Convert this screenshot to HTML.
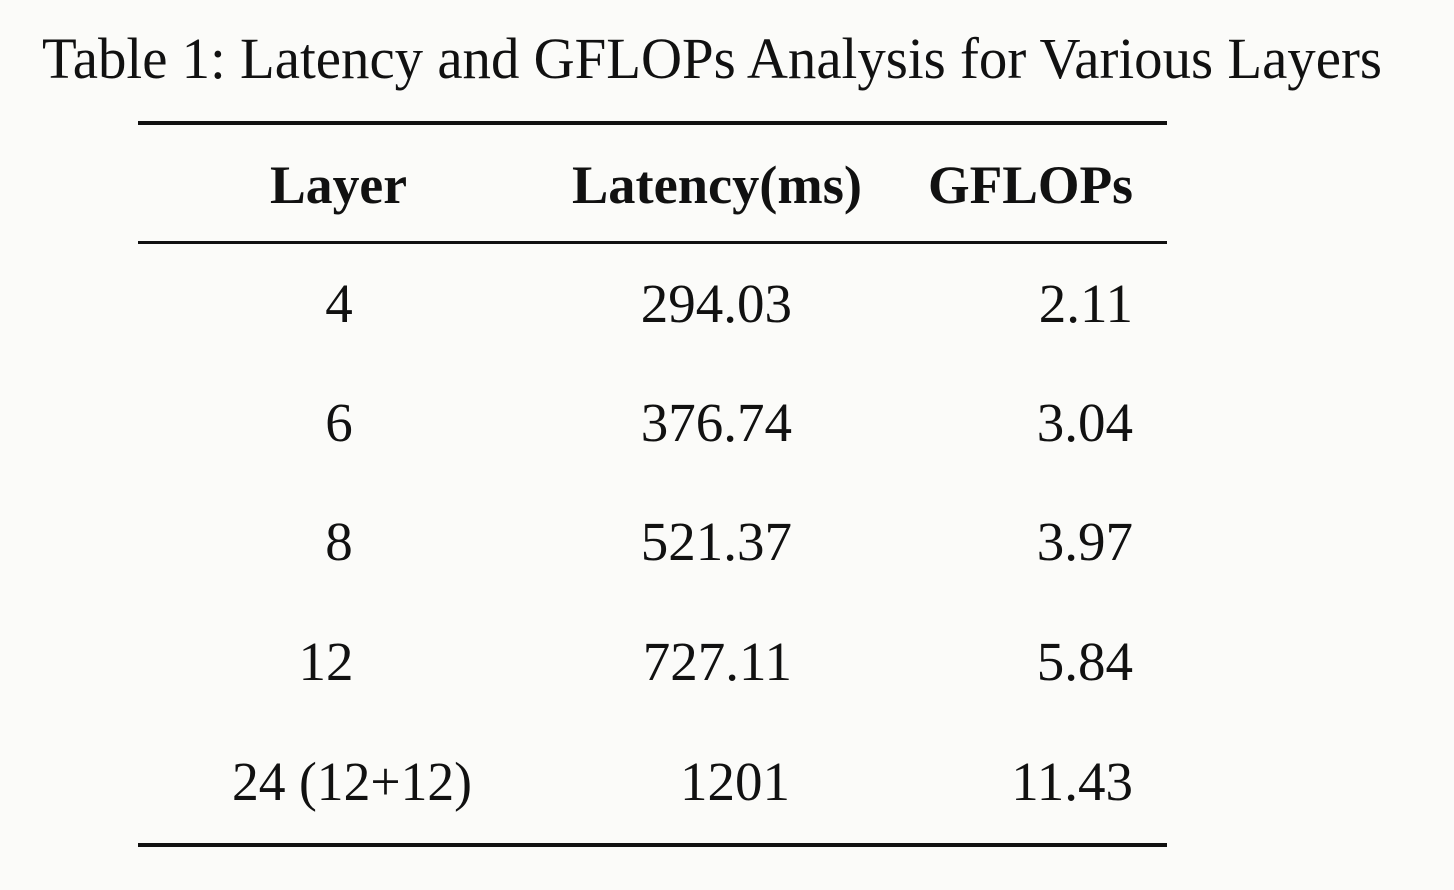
<!DOCTYPE html>
<html><head><style>
html,body{margin:0;padding:0;background:#fbfbf9;}
svg{display:block;}
text{font-family:"Liberation Serif",serif;fill:#111;}
</style></head><body>
<svg width="1454" height="890" viewBox="0 0 1454 890">
<rect width="1454" height="890" fill="#fbfbf9"/>
<text x="42" y="78" font-size="58" textLength="1340" lengthAdjust="spacingAndGlyphs">Table 1: Latency and GFLOPs Analysis for Various Layers</text>
<rect x="138" y="121" width="1029" height="4" fill="#111"/>
<rect x="138" y="241" width="1029" height="3" fill="#111"/>
<rect x="138" y="843" width="1029" height="4" fill="#111"/>
<g font-weight="bold" font-size="54">
<text x="270" y="203" textLength="137" lengthAdjust="spacingAndGlyphs">Layer</text>
<text x="572" y="203" textLength="290" lengthAdjust="spacingAndGlyphs">Latency(ms)</text>
<text x="928" y="203" textLength="205" lengthAdjust="spacingAndGlyphs">GFLOPs</text>
</g>
<g font-size="55">
<text x="339" y="322" text-anchor="middle">4</text>
<text x="792" y="322" text-anchor="end">294.03</text>
<text x="1133" y="322" text-anchor="end">2.11</text>
<text x="339" y="441" text-anchor="middle">6</text>
<text x="792" y="441" text-anchor="end">376.74</text>
<text x="1133" y="441" text-anchor="end">3.04</text>
<text x="339" y="560" text-anchor="middle">8</text>
<text x="792" y="560" text-anchor="end">521.37</text>
<text x="1133" y="560" text-anchor="end">3.97</text>
<text x="326" y="680" text-anchor="middle">12</text>
<text x="792" y="680" text-anchor="end">727.11</text>
<text x="1133" y="680" text-anchor="end">5.84</text>
<text x="232" y="800" textLength="240" lengthAdjust="spacingAndGlyphs">24 (12+12)</text>
<text x="790" y="800" text-anchor="end">1201</text>
<text x="1133" y="800" text-anchor="end">11.43</text>
</g>
</svg>
</body></html>
